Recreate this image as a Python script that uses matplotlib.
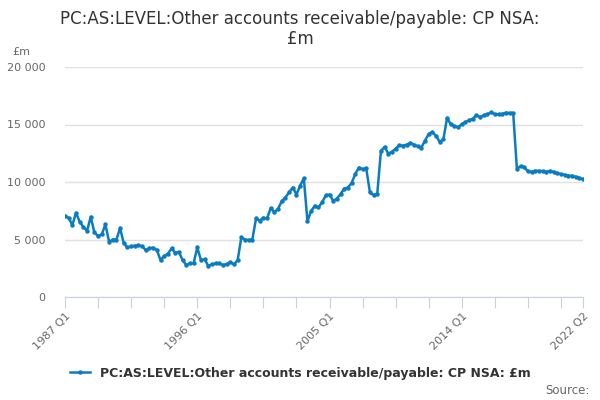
import numpy as np
import matplotlib
matplotlib.use("Agg")
import matplotlib.pyplot as plt

# quarterly values, 1987 Q1 .. 2022 Q2 (£m)
values = [
    7060, 6880, 6250, 7320, 6540, 6100, 5750, 6970, 5610, 5300,
    5440, 6310, 4800, 5000, 5000, 5990, 4660, 4310, 4400, 4460,
    4490, 4400, 4080, 4250, 4280, 4080, 3210, 3560, 3760, 4220,
    3850, 3920, 3210, 2780, 2920, 2920, 4310, 3210, 3270, 2720,
    2830, 2920, 2920, 2780, 2860, 3030, 2830, 3210, 5180, 5000,
    4950, 5000, 6830, 6640, 6900, 6830, 7730, 7380, 7670, 8330,
    8650, 9110, 9520, 8910, 9670, 10330, 6600, 7490, 7930, 7790,
    8250, 8830, 8910, 8360, 8560, 8940, 9430, 9520, 9900, 10680,
    11260, 11120, 11180, 9090, 8850, 8990, 12700, 13050, 12470, 12620,
    12900, 13190, 13160, 13250, 13400, 13250, 13100, 12990, 13600, 14180,
    14350, 14000, 13490, 13720, 15570, 15020, 14870, 14760, 15020, 15220,
    15360, 15510, 15800, 15650, 15800, 15890, 16060, 15890, 15890, 15920,
    16030, 16000, 16000, 11170, 11370, 11280, 10940, 10880, 10970, 10970,
    10940, 10880, 10970, 10880, 10770, 10680, 10620, 10560, 10530, 10450,
    10360, 10240,
]
quarters = [f"{1987 + i // 4} Q{i % 4 + 1}" for i in range(len(values))]
label_quarters = ["1987 Q1", "1996 Q1", "2005 Q1", "2014 Q1", "2022 Q2"]
y_ticks = [0, 5000, 10000, 15000, 20000]
series_name = "PC:AS:LEVEL:Other accounts receivable/payable: CP NSA: £m"

plt.rcParams['font.family'] = ['DejaVu Sans']
blue = "#0a7cc1"
grey = "#666666"

fig = plt.figure(figsize=(6, 4), dpi=100)
ax = fig.add_axes([65/600, 103/400, 518/600, 230/400])

x = np.arange(len(values))
ax.plot(x, values, color=blue, lw=1.8, marker="o", ms=2.2, label=series_name)

ax.set_xlim(0, len(values) - 1)
ax.set_ylim(0, 20000)
ax.set_yticks(y_ticks)
ax.set_yticklabels([f"{v:,}".replace(",", " ") for v in y_ticks], color=grey, fontsize=8)
ax.yaxis.grid(True, color="#e0e0e0", lw=1)
ax.set_axisbelow(True)
ax.tick_params(axis="y", length=0, pad=14)

tick_pos = list(range(0, len(values), 9)) + [len(values) - 1]
ax.set_xticks(tick_pos)
ax.set_xticklabels([quarters[i] if quarters[i] in label_quarters else "" for i in tick_pos],
                   rotation=45, ha="right", rotation_mode="anchor", color=grey, fontsize=8)
ax.tick_params(axis="x", length=8, color="#c6d2e4", pad=2)

for s in ["top", "right", "left"]:
    ax.spines[s].set_visible(False)
ax.spines["bottom"].set_color("#c6d2e4")

fig.text(0.5, 1 - 29/400, "PC:AS:LEVEL:Other accounts receivable/payable: CP NSA:\n£m",
         ha="center", va="center", fontsize=12, color="#333333", linespacing=1.15)
fig.text(12/600, 1 - 52/400, "£m", fontsize=8, color=grey, va="center")

leg = fig.legend(loc="center", bbox_to_anchor=(0.5, 1 - 373/400), frameon=False,
                 prop={"weight": "bold", "size": 9}, handlelength=1.6)
for t in leg.get_texts():
    t.set_color("#333333")
fig.text(590/600, 1 - 390/400, "Source:", ha="right", va="center", fontsize=8.5, color=grey)

fig.savefig("out.png", dpi=100)
